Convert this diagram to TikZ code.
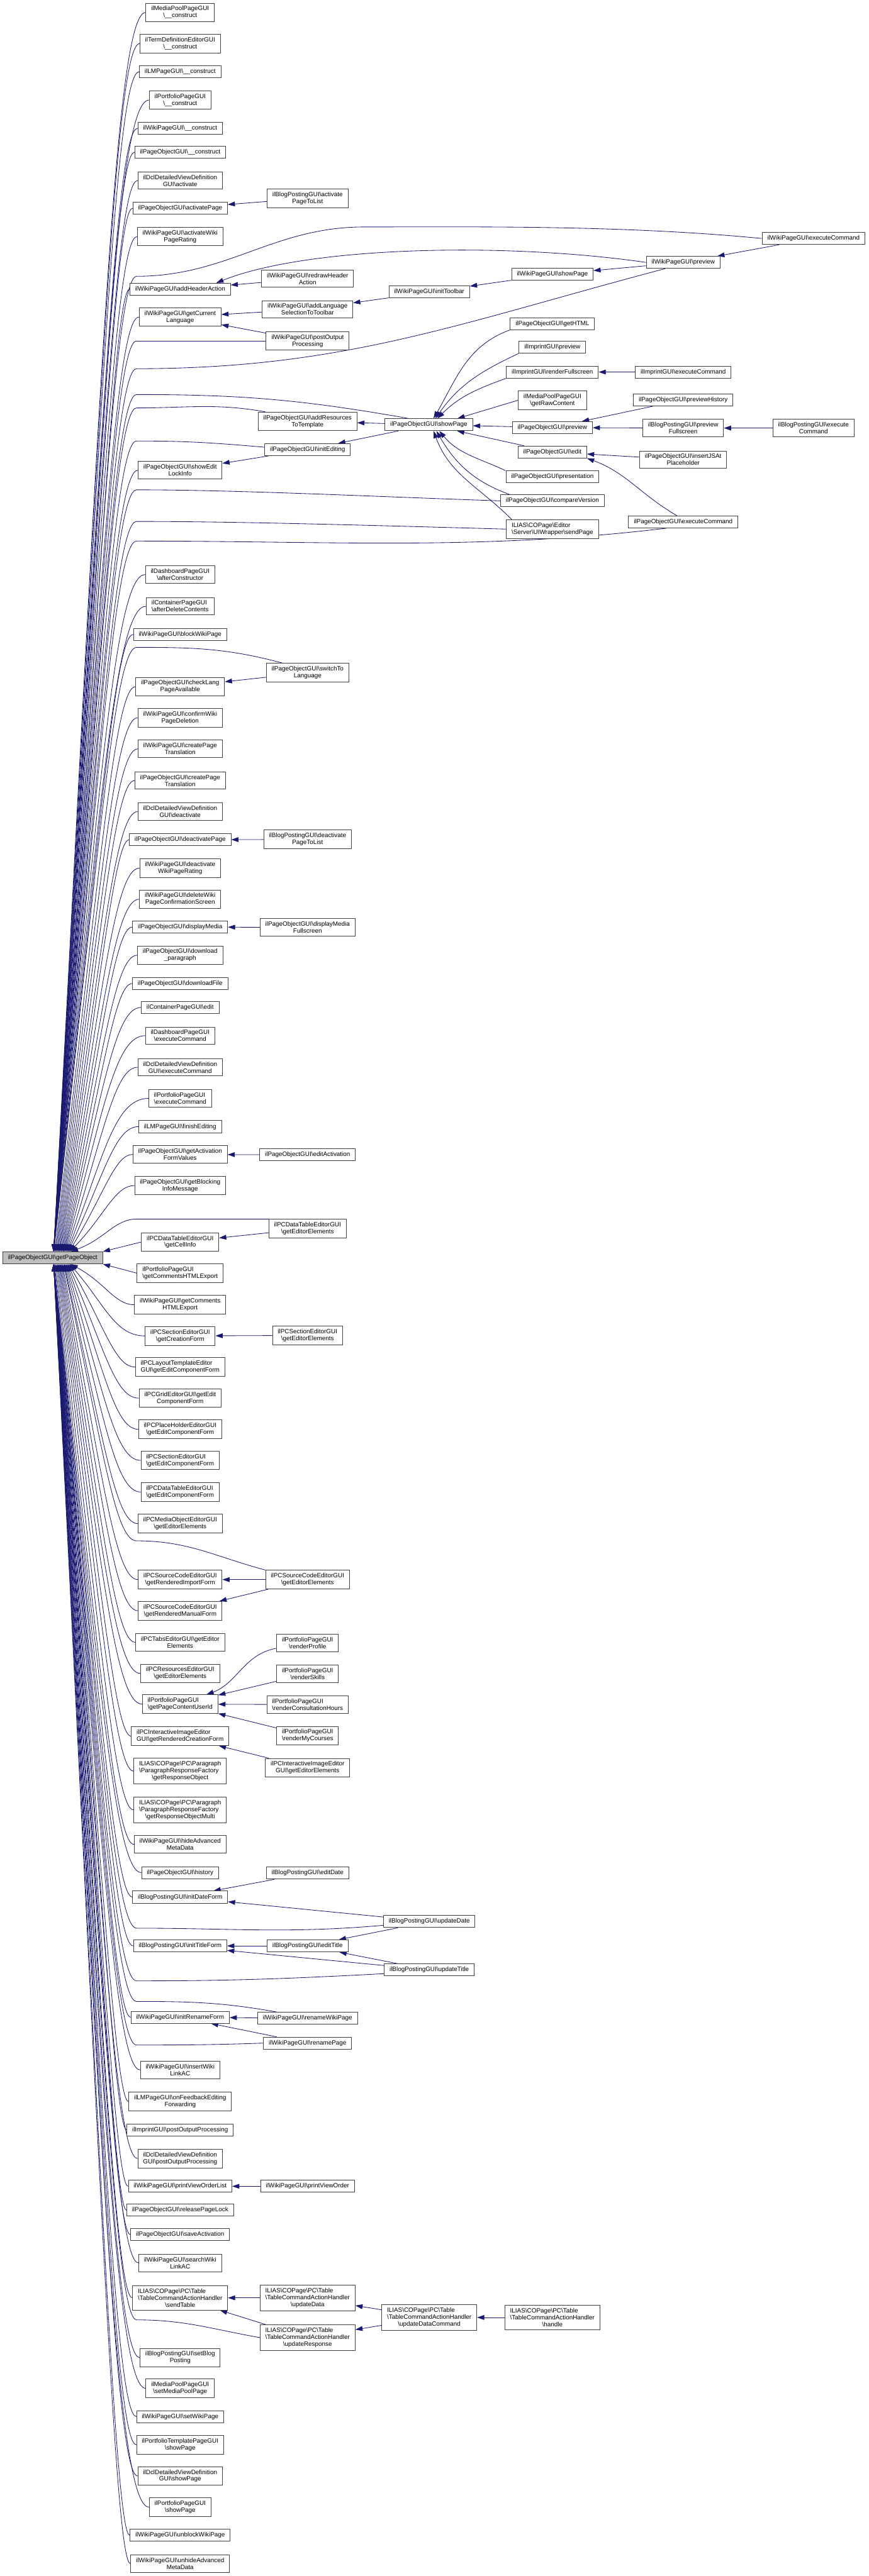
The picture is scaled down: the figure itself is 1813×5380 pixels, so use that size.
\documentclass[tikz,border=0pt]{standalone}
\usepackage{fontspec}
\setmainfont{Liberation Sans}
\usetikzlibrary{arrows.meta,calc,backgrounds}
\definecolor{cgedge}{HTML}{191970}
\definecolor{cgbox}{HTML}{404040}
\definecolor{cgroot}{HTML}{BFBFBF}
\newcommand{\bksl}{\textbackslash}
\tikzset{
  fn/.style={draw=cgbox, line width=1.2pt, fill=white, align=left, font=\fontsize{13}{14.4}\selectfont, inner xsep=11pt, inner ysep=6.2pt, minimum height=25pt},
  rootfn/.style={fn, fill=cgroot},
  cg/.style={draw=cgedge, line width=1.1pt, -{Triangle[length=15pt,width=10pt]}},
  cgl/.style={draw=cgedge, line width=1.1pt},
}

\begin{document}
\begin{tikzpicture}[x=1pt,y=-1pt]
\useasboundingbox (0,0) rectangle (1813,5380);
\node[rootfn] (root) at (110,2627) {ilPageObjectGUI\bksl getPageObject};
% first rank of callers
\node[fn] (c1) at (376,26) {ilMediaPoolPageGUI\\\hfil\bksl\_\_construct};
\node[fn] (c2) at (376,91) {ilTermDefinitionEditorGUI\\\hfil\bksl\_\_construct};
\node[fn] (c3) at (376,150) {ilLMPageGUI\bksl\_\_construct};
\node[fn] (c4) at (376,209) {ilPortfolioPageGUI\\\hfil\bksl\_\_construct};
\node[fn] (c5) at (376,268) {ilWikiPageGUI\bksl\_\_construct};
\node[fn] (c6) at (376,318) {ilPageObjectGUI\bksl\_\_construct};
\node[fn] (c7) at (376,377) {ilDclDetailedViewDefinition\\\hfil GUI\bksl activate};
\node[fn] (c8) at (376,435) {ilPageObjectGUI\bksl activatePage};
\node[fn] (c9) at (376,494) {ilWikiPageGUI\bksl activateWiki\\\hfil PageRating};
\node[fn] (c10) at (376,604) {ilWikiPageGUI\bksl addHeaderAction};
\node[fn] (c11) at (376,662) {ilWikiPageGUI\bksl getCurrent\\\hfil Language};
\node[fn] (c12) at (376,982) {ilPageObjectGUI\bksl showEdit\\\hfil LockInfo};
\node[fn] (c13) at (376,1200) {ilDashboardPageGUI\\\hfil\bksl afterConstructor};
\node[fn] (c14) at (376,1266) {ilContainerPageGUI\\\hfil\bksl afterDeleteContents};
\node[fn] (c15) at (376,1325) {ilWikiPageGUI\bksl blockWikiPage};
\node[fn] (c16) at (376,1434) {ilPageObjectGUI\bksl checkLang\\\hfil PageAvailable};
\node[fn] (c17) at (376,1499) {ilWikiPageGUI\bksl confirmWiki\\\hfil PageDeletion};
\node[fn] (c18) at (376,1564) {ilWikiPageGUI\bksl createPage\\\hfil Translation};
\node[fn] (c19) at (376,1630) {ilPageObjectGUI\bksl createPage\\\hfil Translation};
\node[fn] (c20) at (376,1695) {ilDclDetailedViewDefinition\\\hfil GUI\bksl deactivate};
\node[fn] (c21) at (376,1754) {ilPageObjectGUI\bksl deactivatePage};
\node[fn] (c22) at (376,1813) {ilWikiPageGUI\bksl deactivate\\\hfil WikiPageRating};
\node[fn] (c23) at (376,1878) {ilWikiPageGUI\bksl deleteWiki\\\hfil PageConfirmationScreen};
\node[fn] (c24) at (376,1936) {ilPageObjectGUI\bksl displayMedia};
\node[fn] (c25) at (376,1995) {ilPageObjectGUI\bksl download\\\hfil\_paragraph};
\node[fn] (c26) at (376,2054) {ilPageObjectGUI\bksl downloadFile};
\node[fn] (c27) at (376,2104) {ilContainerPageGUI\bksl edit};
\node[fn] (c28) at (376,2163) {ilDashboardPageGUI\\\hfil\bksl executeCommand};
\node[fn] (c29) at (376,2229) {ilDclDetailedViewDefinition\\\hfil GUI\bksl executeCommand};
\node[fn] (c30) at (376,2294) {ilPortfolioPageGUI\\\hfil\bksl executeCommand};
\node[fn] (c31) at (376,2353) {ilLMPageGUI\bksl finishEditing};
\node[fn] (c32) at (376,2411) {ilPageObjectGUI\bksl getActivation\\\hfil FormValues};
\node[fn] (c33) at (376,2476) {ilPageObjectGUI\bksl getBlocking\\\hfil InfoMessage};
\node[fn] (c34) at (376,2594) {ilPCDataTableEditorGUI\\\hfil\bksl getCellInfo};
\node[fn] (c35) at (376,2659) {ilPortfolioPageGUI\\\hfil\bksl getCommentsHTMLExport};
\node[fn] (c36) at (376,2725) {ilWikiPageGUI\bksl getComments\\\hfil HTMLExport};
\node[fn] (c37) at (376,2790) {ilPCSectionEditorGUI\\\hfil\bksl getCreationForm};
\node[fn] (c38) at (376,2855) {ilPCLayoutTemplateEditor\\\hfil GUI\bksl getEditComponentForm};
\node[fn] (c39) at (376,2920) {ilPCGridEditorGUI\bksl getEdit\\\hfil ComponentForm};
\node[fn] (c40) at (376,2985) {ilPCPlaceHolderEditorGUI\\\hfil\bksl getEditComponentForm};
\node[fn] (c41) at (376,3050) {ilPCSectionEditorGUI\\\hfil\bksl getEditComponentForm};
\node[fn] (c42) at (376,3116) {ilPCDataTableEditorGUI\\\hfil\bksl getEditComponentForm};
\node[fn] (c43) at (376,3182) {ilPCMediaObjectEditorGUI\\\hfil\bksl getEditorElements};
\node[fn] (c44) at (376,3299) {ilPCSourceCodeEditorGUI\\\hfil\bksl getRenderedImportForm};
\node[fn] (c45) at (376,3364) {ilPCSourceCodeEditorGUI\\\hfil\bksl getRenderedManualForm};
\node[fn] (c46) at (376,3430) {ilPCTabsEditorGUI\bksl getEditor\\\hfil Elements};
\node[fn] (c47) at (376,3495) {ilPCResourcesEditorGUI\\\hfil\bksl getEditorElements};
\node[fn] (c48) at (376,3559) {ilPortfolioPageGUI\\\hfil\bksl getPageContentUserId};
\node[fn] (c49) at (376,3626) {ilPCInteractiveImageEditor\\\hfil GUI\bksl getRenderedCreationForm};
\node[fn] (c50) at (376,3699) {ILIAS\bksl COPage\bksl PC\bksl Paragraph\\\bksl ParagraphResponseFactory\\\hfil\bksl getResponseObject};
\node[fn] (c51) at (376,3780) {ILIAS\bksl COPage\bksl PC\bksl Paragraph\\\bksl ParagraphResponseFactory\\\hfil\bksl getResponseObjectMulti};
\node[fn] (c52) at (376,3852) {ilWikiPageGUI\bksl hideAdvanced\\\hfil MetaData};
\node[fn] (c53) at (376,3911) {ilPageObjectGUI\bksl history};
\node[fn] (c54) at (376,3962) {ilBlogPostingGUI\bksl initDateForm};
\node[fn] (c55) at (376,4064) {ilBlogPostingGUI\bksl initTitleForm};
\node[fn] (c56) at (376,4213) {ilWikiPageGUI\bksl initRenameForm};
\node[fn] (c57) at (376,4323) {ilWikiPageGUI\bksl insertWiki\\\hfil LinkAC};
\node[fn] (c58) at (376,4389) {ilLMPageGUI\bksl onFeedbackEditing\\\hfil Forwarding};
\node[fn] (c59) at (376,4448) {ilImprintGUI\bksl postOutputProcessing};
\node[fn] (c60) at (376,4508) {ilDclDetailedViewDefinition\\\hfil GUI\bksl postOutputProcessing};
\node[fn] (c61) at (376,4566) {ilWikiPageGUI\bksl printViewOrderList};
\node[fn] (c62) at (376,4616) {ilPageObjectGUI\bksl releasePageLock};
\node[fn] (c63) at (376,4667) {ilPageObjectGUI\bksl saveActivation};
\node[fn] (c64) at (376,4726) {ilWikiPageGUI\bksl searchWiki\\\hfil LinkAC};
\node[fn] (c65) at (376,4799) {ILIAS\bksl COPage\bksl PC\bksl Table\\\bksl TableCommandActionHandler\\\hfil\bksl sendTable};
\node[fn] (c66) at (376,4924) {ilBlogPostingGUI\bksl setBlog\\\hfil Posting};
\node[fn] (c67) at (376,4988) {ilMediaPoolPageGUI\\\hfil\bksl setMediaPoolPage};
\node[fn] (c68) at (376,5047) {ilWikiPageGUI\bksl setWikiPage};
\node[fn] (c69) at (376,5106) {ilPortfolioTemplatePageGUI\\\hfil\bksl showPage};
\node[fn] (c70) at (376,5171) {ilDclDetailedViewDefinition\\\hfil GUI\bksl showPage};
\node[fn] (c71) at (376,5236) {ilPortfolioPageGUI\\\hfil\bksl showPage};
\node[fn] (c72) at (376,5295) {ilWikiPageGUI\bksl unblockWikiPage};
\node[fn] (c73) at (376,5354) {ilWikiPageGUI\bksl unhideAdvanced\\\hfil MetaData};
% second rank
\node[fn] (d01) at (642,414) {ilBlogPostingGUI\bksl activate\\\hfil PageToList};
\node[fn] (d02) at (642,582) {ilWikiPageGUI\bksl redrawHeader\\\hfil Action};
\node[fn] (d03) at (642,646) {ilWikiPageGUI\bksl addLanguage\\\hfil SelectionToToolbar};
\node[fn] (d04) at (642,712) {ilWikiPageGUI\bksl postOutput\\\hfil Processing};
\node[fn] (d05) at (642,880) {ilPageObjectGUI\bksl addResources\\\hfil ToTemplate};
\node[fn] (d06) at (642,939) {ilPageObjectGUI\bksl initEditing};
\node[fn] (d07) at (642,1405) {ilPageObjectGUI\bksl switchTo\\\hfil Language};
\node[fn] (d08) at (642,1753) {ilBlogPostingGUI\bksl deactivate\\\hfil PageToList};
\node[fn] (d09) at (642,1937) {ilPageObjectGUI\bksl displayMedia\\\hfil Fullscreen};
\node[fn] (d10) at (642,2412) {ilPageObjectGUI\bksl editActivation};
\node[fn] (d11) at (642,2566) {ilPCDataTableEditorGUI\\\hfil\bksl getEditorElements};
\node[fn] (d12) at (642,2789) {ilPCSectionEditorGUI\\\hfil\bksl getEditorElements};
\node[fn] (d13) at (642,3299) {ilPCSourceCodeEditorGUI\\\hfil\bksl getEditorElements};
\node[fn] (d14) at (642,3431) {ilPortfolioPageGUI\\\hfil\bksl renderProfile};
\node[fn] (d15) at (642,3496) {ilPortfolioPageGUI\\\hfil\bksl renderSkills};
\node[fn] (d16) at (642,3560) {ilPortfolioPageGUI\\\hfil\bksl renderConsultationHours};
\node[fn] (d17) at (642,3625) {ilPortfolioPageGUI\\\hfil\bksl renderMyCourses};
\node[fn] (d18) at (642,3692) {ilPCInteractiveImageEditor\\\hfil GUI\bksl getEditorElements};
\node[fn] (d19) at (642,3912) {ilBlogPostingGUI\bksl editDate};
\node[fn] (d20) at (642,4064) {ilBlogPostingGUI\bksl editTitle};
\node[fn] (d21) at (642,4215) {ilWikiPageGUI\bksl renameWikiPage};
\node[fn] (d22) at (642,4267) {ilWikiPageGUI\bksl renamePage};
\node[fn] (d23) at (642,4566) {ilWikiPageGUI\bksl printViewOrder};
\node[fn] (d24) at (642,4799) {ILIAS\bksl COPage\bksl PC\bksl Table\\\bksl TableCommandActionHandler\\\hfil\bksl updateData};
\node[fn] (d25) at (642,4882) {ILIAS\bksl COPage\bksl PC\bksl Table\\\bksl TableCommandActionHandler\\\hfil\bksl updateResponse};
% third rank
\node[fn] (e01) at (896,610) {ilWikiPageGUI\bksl initToolbar};
\node[fn] (e02) at (895,887) {ilPageObjectGUI\bksl showPage};
\node[fn] (e03) at (896,4013) {ilBlogPostingGUI\bksl updateDate};
\node[fn] (e04) at (896,4114) {ilBlogPostingGUI\bksl updateTitle};
\node[fn] (e05) at (896,4840) {ILIAS\bksl COPage\bksl PC\bksl Table\\\bksl TableCommandActionHandler\\\hfil\bksl updateDataCommand};
% fourth rank
\node[fn] (f01) at (1153,573) {ilWikiPageGUI\bksl showPage};
\node[fn] (f02) at (1153,676) {ilPageObjectGUI\bksl getHTML};
\node[fn] (f03) at (1153,725) {ilImprintGUI\bksl preview};
\node[fn] (f04) at (1153,777) {ilImprintGUI\bksl renderFullscreen};
\node[fn] (f05) at (1153,836) {ilMediaPoolPageGUI\\\hfil\bksl getRawContent};
\node[fn] (f06) at (1153,893) {ilPageObjectGUI\bksl preview};
\node[fn] (f07) at (1153,944) {ilPageObjectGUI\bksl edit};
\node[fn] (f08) at (1153,996) {ilPageObjectGUI\bksl presentation};
\node[fn] (f09) at (1153,1046) {ilPageObjectGUI\bksl compareVersion};
\node[fn] (f10) at (1153,1105) {ILIAS\bksl COPage\bksl Editor\\\hfil\bksl Server\bksl UIWrapper\bksl sendPage};
\node[fn] (f11) at (1153,4840) {ILIAS\bksl COPage\bksl PC\bksl Table\\\bksl TableCommandActionHandler\\\hfil\bksl handle};
% fifth and sixth rank
\node[fn] (g01) at (1426,548) {ilWikiPageGUI\bksl preview};
\node[fn] (g02) at (1426,777) {ilImprintGUI\bksl executeCommand};
\node[fn] (g03) at (1426,835) {ilPageObjectGUI\bksl previewHistory};
\node[fn] (g04) at (1426,894) {ilBlogPostingGUI\bksl preview\\\hfil Fullscreen};
\node[fn] (g05) at (1426,960) {ilPageObjectGUI\bksl insertJSAt\\\hfil Placeholder};
\node[fn] (g06) at (1426,1090) {ilPageObjectGUI\bksl executeCommand};
\node[fn] (h01) at (1698,498) {ilWikiPageGUI\bksl executeCommand};
\node[fn] (h02) at (1698,894) {ilBlogPostingGUI\bksl execute\\\hfil Command};
% knees where the long edges turn towards the root
\coordinate (kh01) at (285,577);
\coordinate (kd04) at (285,712);
\coordinate (kg01) at (285,770);
\coordinate (ke02) at (285,824);
\coordinate (kd05) at (285,852);
\coordinate (kd06) at (285,921);
\coordinate (kf09) at (285,1023);
\coordinate (kf10) at (285,1089);
\coordinate (kg06) at (285,1130);
\coordinate (kd07) at (285,1352);
\coordinate (kd11) at (285,2546);
\coordinate (kd13) at (285,3218);
\coordinate (ke03) at (285,4027);
\coordinate (ke04) at (285,4137);
\coordinate (kd21) at (285,4180);
\coordinate (kd22) at (285,4271);
\coordinate (kd25) at (285,4845);

\begin{scope}[on background layer]
\fill[white] (0,0) rectangle (1813,5380);
% edges into the root
\foreach \i in {1,...,33}
  \draw[cg] let \p1=(c\i.west), \p2=(root.north), \n1={max(112pt,150pt-0.03*abs((\y1)-(\y2)))} in (\p1) .. controls (240pt,\y1) and ({0.3*\n1*1pt+175pt},{0.3*\y2+0.7*(\y1-30pt)}) .. ({\n1*1pt},\y2);
\foreach \nd in {kh01,kd04,kg01,ke02,kd05,kd06,kf09,kf10,kg06,kd07,kd11}
  \draw[cg] let \p1=(\nd), \p2=(root.north), \n1={max(112pt,150pt-0.03*abs((\y1)-(\y2)))} in (\p1) .. controls (240pt,\y1) and ({0.3*\n1*1pt+175pt},{0.3*\y2+0.7*(\y1-30pt)}) .. ({\n1*1pt},\y2);
\foreach \i in {36,...,73}
  \draw[cg] let \p1=(c\i.west), \p2=(root.south), \n1={max(112pt,150pt-0.03*abs((\y1)-(\y2)))} in (\p1) .. controls (240pt,\y1) and ({0.3*\n1*1pt+175pt},{0.3*\y2+0.7*(\y1+30pt)}) .. ({\n1*1pt},\y2);
\foreach \nd in {kd13,ke03,ke04,kd21,kd22,kd25}
  \draw[cg] let \p1=(\nd), \p2=(root.south), \n1={max(112pt,150pt-0.03*abs((\y1)-(\y2)))} in (\p1) .. controls (240pt,\y1) and ({0.3*\n1*1pt+175pt},{0.3*\y2+0.7*(\y1+30pt)}) .. ({\n1*1pt},\y2);
\draw[cg] (c34.west) -- (root.north east);
\draw[cg] (c35.west) -- (root.south east);
% long edges up to their knee
\draw[cgl] (h01.west) .. controls (1300,470) and (1000,474) .. (760,474) to[out=180,in=0] (kh01);
\draw[cgl] (d04.west) -- (kd04);
\draw[cgl] ([xshift=40pt]g01.south west) .. controls (960,674) and (720,770) .. (kg01);
\draw[cgl] ([xshift=50pt]e02.north west) to[out=170,in=0] (ke02);
\draw[cgl] ([xshift=15pt]d05.north west) to[out=170,in=0] (kd05);
\draw[cgl] ([yshift=5pt]d06.west) to[out=175,in=0] (kd06);
\draw[cgl] (f09.west) .. controls (800,1038) and (500,1023) .. (kf09);
\draw[cgl] (f10.west) .. controls (800,1098) and (500,1089) .. (kf10);
\draw[cgl] ([xshift=80pt]g06.south west) .. controls (1000,1150) and (700,1130) .. (kg06);
\draw[cgl] ([xshift=35pt]d07.north west) to[out=165,in=0] (kd07);
\draw[cgl] (d11.north west) -- (kd11);
\draw[cgl] (d13.north west) to[out=165,in=0] (kd13);
\draw[cgl] ([yshift=-8pt]e03.west) to[out=185,in=0] (ke03);
\draw[cgl] ([yshift=-8pt]e04.west) to[out=183,in=0] (ke04);
\draw[cgl] ([xshift=40pt]d21.north west) to[out=170,in=0] (kd21);
\draw[cgl] (d22.west) to[out=182,in=0] (kd22);
\draw[cgl] (d25.west) to[out=170,in=0] (kd25);
% edges between callers
\draw[cg] (d01) -- (c8);
\draw[cg] (g01.west) .. controls (1050,505) and (640,515) .. ([xshift=-30pt]c10.north east);
\draw[cg] (d02) -- (c10);
\draw[cg] (d03) -- (c11);
\draw[cg] (d04) -- (c11);
\draw[cg] (h01) -- (g01);
\draw[cg] (g01) -- (f01);
\draw[cg] (f01) -- (e01);
\draw[cg] (e01) -- (d03);
\draw[cg] (e02) -- (d05);
\draw[cg] (e02) -- (d06);
\draw[cg] (d06) -- (c12);
\draw[cg] (f02.south west) to[out=200,in=60] ([xshift=10pt]e02.north);
\draw[cg] (f03.south west) to[out=205,in=55] ([xshift=14pt]e02.north);
\draw[cg] (f04.south west) to[out=200,in=45] ([xshift=18pt]e02.north);
\draw[cg] (f05.west) -- ([xshift=60pt]e02.north);
\draw[cg] (f06) -- (e02);
\draw[cg] (f07) -- (e02);
\draw[cg] (f08.north west) to[out=155,in=-50] ([xshift=22pt]e02.south);
\draw[cg] ([xshift=20pt]f09.north west) to[out=160,in=-60] ([xshift=16pt]e02.south);
\draw[cg] ([xshift=12pt]f10.north west) to[out=135,in=-70] ([xshift=10pt]e02.south);
\draw[cg] (g02) -- (f04);
\draw[cg] (g03) -- (f06);
\draw[cg] (g04) -- (f06);
\draw[cg] (h02) -- (g04);
\draw[cg] (g05) -- (f07);
\draw[cg] ([xshift=-13pt]g06.north) to[out=150,in=-20] (f07.south east);
\draw[cg] (d07) -- (c16);
\draw[cg] (d08) -- (c21);
\draw[cg] (d09) -- (c24);
\draw[cg] (d10) -- (c32);
\draw[cg] (d11) -- (c34);
\draw[cg] (d12) -- (c37);
\draw[cg] (d13) -- (c44);
\draw[cg] (d13) -- (c45);
\draw[cg] (d14) to[out=190,in=20] (c48);
\draw[cg] (d15) -- (c48);
\draw[cg] (d16) -- (c48);
\draw[cg] (d17) -- (c48);
\draw[cg] (d18) -- (c49);
\draw[cg] (d19) -- (c54);
\draw[cg] (e03) -- (c54);
\draw[cg] (e03) -- (d20);
\draw[cg] (d20) -- (c55);
\draw[cg] (e04) -- (d20);
\draw[cg] (e04) -- (c55);
\draw[cg] (d21) -- (c56);
\draw[cg] (d22) -- (c56);
\draw[cg] (d23) -- (c61);
\draw[cg] (d24) -- (c65);
\draw[cg] (d25) -- (c65);
\draw[cg] (e05) -- (d24);
\draw[cg] (e05) -- (d25);
\draw[cg] (f11) -- (e05);
\end{scope}
\end{tikzpicture}
\end{document}
